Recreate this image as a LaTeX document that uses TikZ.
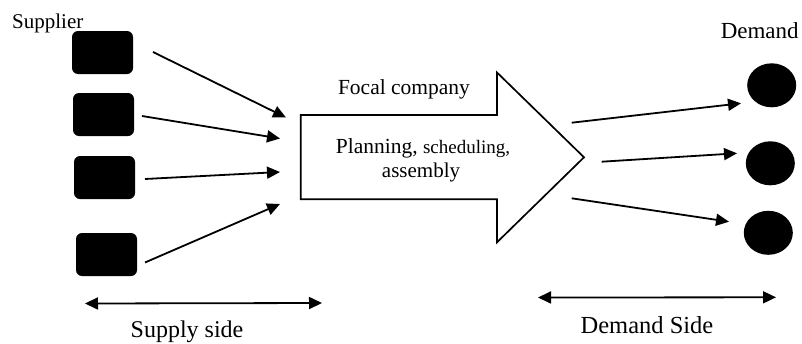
\documentclass[tikz,border=0pt]{standalone}
\usepackage{fontspec}
\setmainfont{Liberation Serif}
\usetikzlibrary{arrows.meta,shapes.geometric}
\tikzset{
  supplier/.style={rectangle, rounded corners=6pt, fill=black, minimum width=61pt, minimum height=43pt, inner sep=0pt},
  customer/.style={ellipse, fill=black, minimum width=49pt, minimum height=44pt, inner sep=0pt},
  flow/.style={line width=1.8pt, -{Triangle[length=13pt,width=12pt]}},
  span/.style={line width=1.8pt, {Triangle[length=13pt,width=12pt]}-{Triangle[length=13pt,width=12pt]}},
  focal/.style={line width=1.7pt, line join=miter},
  lbl/.style={inner sep=0pt, anchor=base},
}
\newcommand{\fs}[1]{\fontsize{#1}{#1}\selectfont}
\begin{document}
\begin{tikzpicture}[x=1pt,y=-1pt]
\useasboundingbox (0,0) rectangle (802,343);

% suppliers
\node[supplier] (b1) at (102.5,52.5) {};
\node[supplier] (b2) at (103.5,114.5) {};
\node[supplier] (b3) at (104.5,177.5) {};
\node[supplier] (b4) at (106.5,254.5) {};
\node[lbl, anchor=base west] (sup) at (12,28) {\fs{21}Supplier};

% focal company arrow
\draw[focal] (300.7,115) -- (497,115) -- (497,72.5) -- (584,157.3)
  -- (497,242.3) -- (497,199.3) -- (300.7,199.3) -- cycle;
\node[lbl] (fc) at (404,94.5) {\fs{21.5}Focal company};
\node[lbl] (plan) at (423,153) {\fs{21.5}Planning, \fs{19}scheduling,};
\node[lbl] (asm) at (421,177.5) {\fs{21}assembly};

% supply flows
\coordinate (s1) at (153,52);   \coordinate (t1) at (286,117.5);
\coordinate (s2) at (142,116);  \coordinate (t2) at (280,138.5);
\coordinate (s3) at (145,179);  \coordinate (t3) at (280,172);
\coordinate (s4) at (145,262.5); \coordinate (t4) at (280,204);
\draw[flow] (s1) -- (t1);
\draw[flow] (s2) -- (t2);
\draw[flow] (s3) -- (t3);
\draw[flow] (s4) -- (t4);

% customers
\node[customer] (c1) at (771.7,85.3) {};
\node[customer] (c2) at (770.3,163.3) {};
\node[customer] (c3) at (768.3,232.8) {};
\node[lbl] (dem) at (759.7,38.3) {\fs{23}Demand};

% demand flows
\coordinate (d1) at (571.7,122.7); \coordinate (e1) at (741,103.3);
\coordinate (d2) at (601.7,161.7); \coordinate (e2) at (737,153.3);
\coordinate (d3) at (571.7,198.3); \coordinate (e3) at (729,221.7);
\draw[flow] (d1) -- (e1);
\draw[flow] (d2) -- (e2);
\draw[flow] (d3) -- (e3);

% side spans
\coordinate (ssl) at (85,303.5);  \coordinate (ssr) at (322,303);
\coordinate (dsl) at (538,297.5); \coordinate (dsr) at (776,297.3);
\draw[span] (ssl) -- (ssr);
\draw[span] (dsl) -- (dsr);
\node[lbl] (sside) at (187,337.3) {\fs{24}Supply side};
\node[lbl] (dside) at (647,333.5) {\fs{24.5}Demand Side};
\end{tikzpicture}
\end{document}
